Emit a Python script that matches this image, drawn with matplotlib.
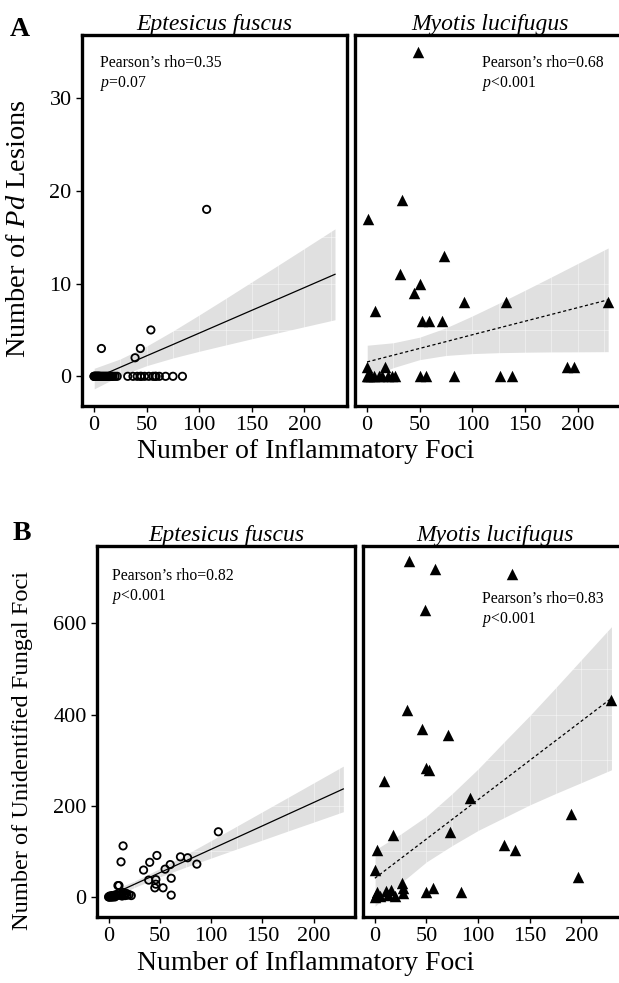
import numpy as np
import matplotlib
matplotlib.use("Agg")
import matplotlib.pyplot as plt

plt.rcParams["font.family"] = ["Liberation Serif", "DejaVu Serif"]
plt.rcParams["mathtext.fontset"] = "custom"
plt.rcParams["mathtext.rm"] = "Liberation Serif"
plt.rcParams["mathtext.it"] = "Liberation Serif:italic"

# --- panel A: Pd lesions vs inflammatory foci ---
ef_a_x = [0, 0, 1, 1, 2, 2, 3, 3, 4, 4, 5, 5, 6, 7, 8, 9, 10, 11, 12, 13, 14, 15, 16, 17, 18, 20, 22,
          32, 37, 41, 44, 45, 48, 52, 56, 58, 59, 62, 68, 75, 84,
          7, 39, 44, 54, 107]
ef_a_y = [0] * 41 + [3, 2, 3, 5, 18]

ml_a_x = [48, 33, 1, 73, 31, 50, 45, 8, 92, 132, 229, 52, 59, 71,
          0, 17, 190, 197,
          0, 1, 2, 4, 7, 11, 14, 20, 24, 27, 50, 56, 83, 126, 138]
ml_a_y = [35, 19, 17, 13, 11, 10, 9, 7, 8, 8, 8, 6, 6, 6,
          1, 1, 1, 1,
          0, 0, 0, 0, 0, 0, 0, 0, 0, 0, 0, 0, 0, 0, 0]

# --- panel B: unidentified fungal foci vs inflammatory foci ---
ef_b_x = [0, 0, 1, 1, 2, 2, 3, 3, 4, 5, 5, 6, 7, 8, 9, 10, 10, 11, 12, 14, 12, 13, 14, 15, 16, 17, 18, 20, 22,
          34, 39, 40, 45, 46, 46, 47, 53, 55, 60, 61, 61, 70, 77, 86, 107]
ef_b_y = [0, 0, 0, 2, 0, 1, 0, 3, 0, 1, 2, 0, 5, 3, 25, 25, 8, 4, 77, 112, 6, 2, 10, 5, 3, 8, 4, 5, 3,
          59, 37, 76, 20, 28, 38, 91, 20, 61, 71, 41, 4, 88, 86, 72, 143]

ml_b_x = [33, 58, 133, 49, 229, 31, 46, 71, 50, 52, 9, 92, 190, 73, 18, 125, 136, 2, 0, 197, 56, 50, 83,
          0, 1, 2, 5, 11, 13, 16, 20, 26, 27, 27]
ml_b_y = [737, 719, 708, 629, 432, 410, 369, 355, 283, 278, 254, 218, 182, 143, 137, 115, 103, 104, 60, 43, 20, 10, 10,
          0, 5, 10, 2, 12, 5, 15, 3, 30, 20, 8]

# fitted lm lines + 95% bands
band_x = [0, 25, 50, 75, 100, 125, 150, 175, 200, 229]
ef_a_fit = [-0.25, 0.98, 2.21, 3.43, 4.66, 5.89, 7.12, 8.34, 9.57, 11.0]
ef_a_lo = [-1.36, 0.08, 1.15, 1.98, 2.70, 3.38, 4.05, 4.70, 5.35, 6.10]
ef_a_hi = [0.86, 1.88, 3.26, 4.89, 6.62, 8.39, 10.19, 11.98, 13.79, 15.90]
ml_a_fit = [1.55, 2.28, 3.01, 3.74, 4.48, 5.21, 5.94, 6.67, 7.40, 8.25]
ml_a_lo = [-0.25, 0.94, 1.80, 2.25, 2.45, 2.55, 2.60, 2.63, 2.64, 2.66]
ml_a_hi = [3.35, 3.62, 4.22, 5.23, 6.51, 7.87, 9.28, 10.71, 12.16, 13.84]
ef_b_fit = [2, 27.7, 53.3, 79, 104.6, 130.3, 155.9, 181.6, 207.2, 237]
ef_b_lo = [-7.6, 20.7, 44.3, 65.3, 85.4, 105.3, 124.9, 144.7, 164.2, 187]
ef_b_hi = [11.6, 34.7, 62.3, 92.7, 123.8, 155.3, 186.9, 218.5, 250.2, 287]
ml_b_fit = [41, 84.1, 127.2, 170.4, 213.5, 256.6, 299.8, 342.9, 386, 436]
ml_b_lo = [-21, 30, 77, 113, 146, 174, 202, 227, 251, 279]
ml_b_hi = [103, 138, 177, 227, 281, 340, 398, 459, 521, 593]

species = ["Eptesicus fuscus", "Myotis lucifugus"]
stats_a = ["Pearson\u2019s rho=0.35\n$\\mathit{p}$=0.07", "Pearson\u2019s rho=0.68\n$\\mathit{p}$<0.001"]
stats_b = ["Pearson\u2019s rho=0.82\n$\\mathit{p}$<0.001", "Pearson\u2019s rho=0.83\n$\\mathit{p}$<0.001"]

W, H = 619, 983
fig = plt.figure(figsize=(W / 100, H / 100), dpi=100)


def px_axes(x0, y0, x1, y1):
    return fig.add_axes([x0 / W, 1 - y1 / H, (x1 - x0) / W, (y1 - y0) / H])


def panel(ax, x, y, fit, lo, hi, kind, xlim, ylim, yticks, show_y, title):
    ax.fill_between(band_x, lo, hi, color="#e0e0e0", lw=0, zorder=1)
    # faint white grid, only visible through the ribbon
    for gx in np.arange(0, 250, 25):
        ax.axvline(gx, color="white", lw=0.5, alpha=0.6, zorder=1.5)
    step = (yticks[1] - yticks[0]) / 2
    for gy in np.arange(yticks[0], ylim[1], step):
        ax.axhline(gy, color="white", lw=0.5, alpha=0.6, zorder=1.5)
    if kind == "circle":
        ax.plot(band_x, fit, color="black", lw=0.9, zorder=2)
        ax.scatter(x, y, s=28, facecolors="none", edgecolors="black", linewidths=1.3, zorder=3)
    else:
        ax.plot(band_x, fit, color="black", lw=0.9, ls=(0, (2.5, 2)), zorder=2)
        ax.scatter(x, y, s=68, marker="^", color="black", linewidths=0, zorder=3)
    ax.set_xlim(*xlim)
    ax.set_ylim(*ylim)
    ax.set_xticks([0, 50, 100, 150, 200])
    ax.set_yticks(yticks)
    ax.tick_params(labelsize=16, length=4, width=1, color="black", direction="out")
    if not show_y:
        ax.tick_params(axis="y", left=False, labelleft=False)
    for sp in ax.spines.values():
        sp.set_linewidth(2.4)
    ax.set_title(title, fontsize=17, style="italic", pad=3)


xlim = (-11.45, 240.4)
xlim_r = (-11.45, 245.0)

ax = px_axes(82, 35, 347, 406)
panel(ax, ef_a_x, ef_a_y, ef_a_fit, ef_a_lo, ef_a_hi, "circle", xlim, (-3.2, 36.8), [0, 10, 20, 30], True, species[0])
ax = px_axes(355, 35, 625, 406)
panel(ax, ml_a_x, ml_a_y, ml_a_fit, ml_a_lo, ml_a_hi, "tri", xlim_r, (-3.2, 36.8), [0, 10, 20, 30], False, species[1])

ax = px_axes(97, 546, 355, 917)
panel(ax, ef_b_x, ef_b_y, ef_b_fit, ef_b_lo, ef_b_hi, "circle", xlim, (-44, 770), [0, 200, 400, 600], True, species[0])
ax = px_axes(363, 546, 628, 917)
panel(ax, ml_b_x, ml_b_y, ml_b_fit, ml_b_lo, ml_b_hi, "tri", xlim_r, (-44, 770), [0, 200, 400, 600], False, species[1])

# stats text
fig.text(100 / W, 1 - 55 / H, stats_a[0], fontsize=11.3, va="top", linespacing=1.25)
fig.text(482 / W, 1 - 55 / H, stats_a[1], fontsize=11.3, va="top", linespacing=1.25)
fig.text(112 / W, 1 - 568 / H, stats_b[0], fontsize=11.3, va="top", linespacing=1.25)
fig.text(482 / W, 1 - 591 / H, stats_b[1], fontsize=11.3, va="top", linespacing=1.25)

# axis labels
fig.text(306 / W, 1 - 452 / H, "Number of Inflammatory Foci", fontsize=20, ha="center", va="center")
fig.text(306 / W, 1 - 964 / H, "Number of Inflammatory Foci", fontsize=20, ha="center", va="center")
fig.text(19 / W, 1 - 229 / H, "Number of $\\mathit{Pd}$ Lesions", fontsize=20.4, rotation=90,
         ha="center", va="center")
fig.text(23 / W, 1 - 750 / H, "Number of Unidentified Fungal Foci", fontsize=17.6, rotation=90,
         ha="center", va="center")

# panel letters
fig.text(10 / W, 1 - 30 / H, "A", fontsize=20, weight="bold", va="center")
fig.text(13 / W, 1 - 533 / H, "B", fontsize=20, weight="bold", va="center")

fig.savefig("out.png", dpi=100)
